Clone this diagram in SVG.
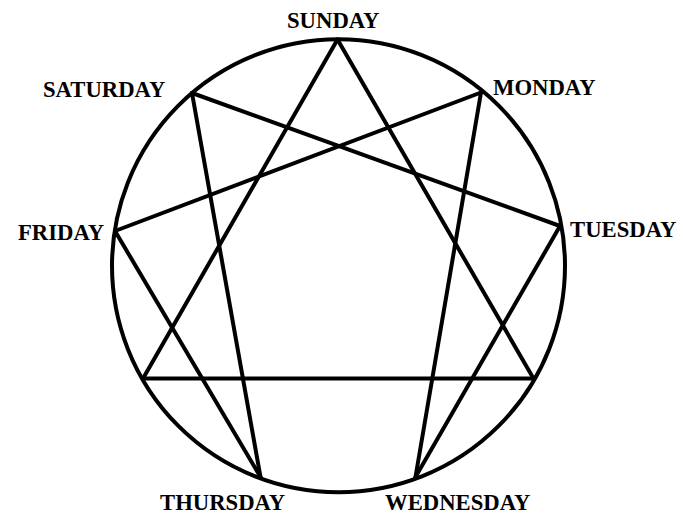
<svg xmlns="http://www.w3.org/2000/svg" width="683" height="515" viewBox="0 0 683 515">
<style>
.ln{stroke:#000;stroke-width:4;fill:none;stroke-linecap:round;stroke-linejoin:round}
.lb{font-family:"Liberation Serif","Times New Roman",serif;font-weight:bold;font-size:22.7px;fill:#000}
</style>
<rect width="683" height="515" fill="#fff"/>
<g id="circle"><circle class="ln" cx="338.5" cy="265.8" r="226.5"/></g>
<g id="connectors">
<line class="ln" x1="337.5" y1="39.5" x2="533.5" y2="378.5"/>
<line class="ln" x1="337.5" y1="39.5" x2="143" y2="378.5"/>
<line class="ln" x1="143" y1="378.5" x2="533.5" y2="378.5"/>
<line class="ln" x1="192" y1="93" x2="560" y2="226"/>
<line class="ln" x1="192" y1="93" x2="260.5" y2="477"/>
<line class="ln" x1="481" y1="92.5" x2="115" y2="231"/>
<line class="ln" x1="481" y1="92.5" x2="415.5" y2="477"/>
<line class="ln" x1="115" y1="231" x2="260.5" y2="477"/>
<line class="ln" x1="560" y1="226" x2="415.5" y2="477"/>
</g>
<g id="sunday"><text class="lb" x="287" y="28.3">SUNDAY</text></g>
<g id="monday"><text class="lb" x="493" y="95">MONDAY</text></g>
<g id="tuesday"><text class="lb" x="570" y="236.7">TUESDAY</text></g>
<g id="wednesday"><text class="lb" x="385" y="510">WEDNESDAY</text></g>
<g id="thursday"><text class="lb" x="160" y="510">THURSDAY</text></g>
<g id="friday"><text class="lb" x="18" y="240">FRIDAY</text></g>
<g id="saturday"><text class="lb" x="43" y="96.7">SATURDAY</text></g>
</svg>
